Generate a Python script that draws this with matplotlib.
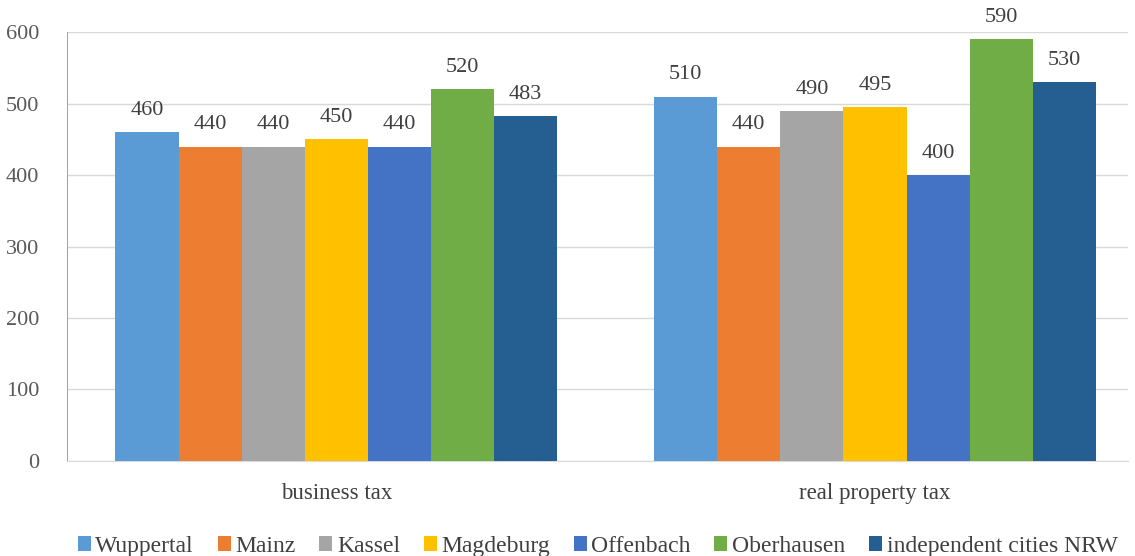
import matplotlib
matplotlib.use("Agg")
import matplotlib.pyplot as plt
import numpy as np

plt.rcParams["font.family"] = ["Liberation Serif", "DejaVu Serif"]

categories = ["business tax", "real property tax"]
cities = ["Wuppertal", "Mainz", "Kassel", "Magdeburg", "Offenbach", "Oberhausen",
          "independent cities NRW"]
colors = ["#5b9bd5", "#ed7d31", "#a5a5a5", "#ffc000", "#4472c4", "#70ad47", "#255e91"]

wuppertal = [460, 510]
mainz = [440, 440]
kassel = [440, 490]
magdeburg = [450, 495]
offenbach = [440, 400]
oberhausen = [520, 590]
nrw = [483, 530]
series = [wuppertal, mainz, kassel, magdeburg, offenbach, oberhausen, nrw]

fig = plt.figure(figsize=(11.35, 5.56), dpi=100)
ax = fig.add_axes([0.059, 0.171, 0.935, 0.771])

x = np.arange(len(categories))
width = 0.82 / len(series)
for i, (name, vals, c) in enumerate(zip(cities, series, colors)):
    pos = x + (i - (len(series) - 1) / 2) * width
    bars = ax.bar(pos, vals, width, color=c, label=name, zorder=3)
    for b, v in zip(bars, vals):
        ax.text(b.get_x() + b.get_width() / 2, v + 17, f"{v}", ha="center", va="bottom",
                fontsize=16, color="#404040")

ax.set_xlim(-0.5, 1.47)
ax.set_ylim(0, 600)
ax.set_yticks(range(0, 601, 100))
ax.set_xticks(x)
ax.set_xticklabels(categories, fontsize=16.5, color="#404040")
ax.tick_params(axis="y", labelsize=16, labelcolor="#595959", length=0, pad=20)
ax.tick_params(axis="x", length=0, pad=16)
ax.grid(axis="y", color="#d9d9d9", lw=1, zorder=0)
for s in ["top", "right"]:
    ax.spines[s].set_visible(False)
ax.spines["left"].set_color("#a6a6a6")
ax.spines["bottom"].set_color("#d9d9d9")

ax.legend(loc="upper center", bbox_to_anchor=(0.5, -0.125), ncol=7, frameon=False,
          fontsize=17, handlelength=0.55, handleheight=0.55, handletextpad=0.2,
          columnspacing=1.0, labelcolor="#404040")

fig.savefig("out.png", dpi=100)
